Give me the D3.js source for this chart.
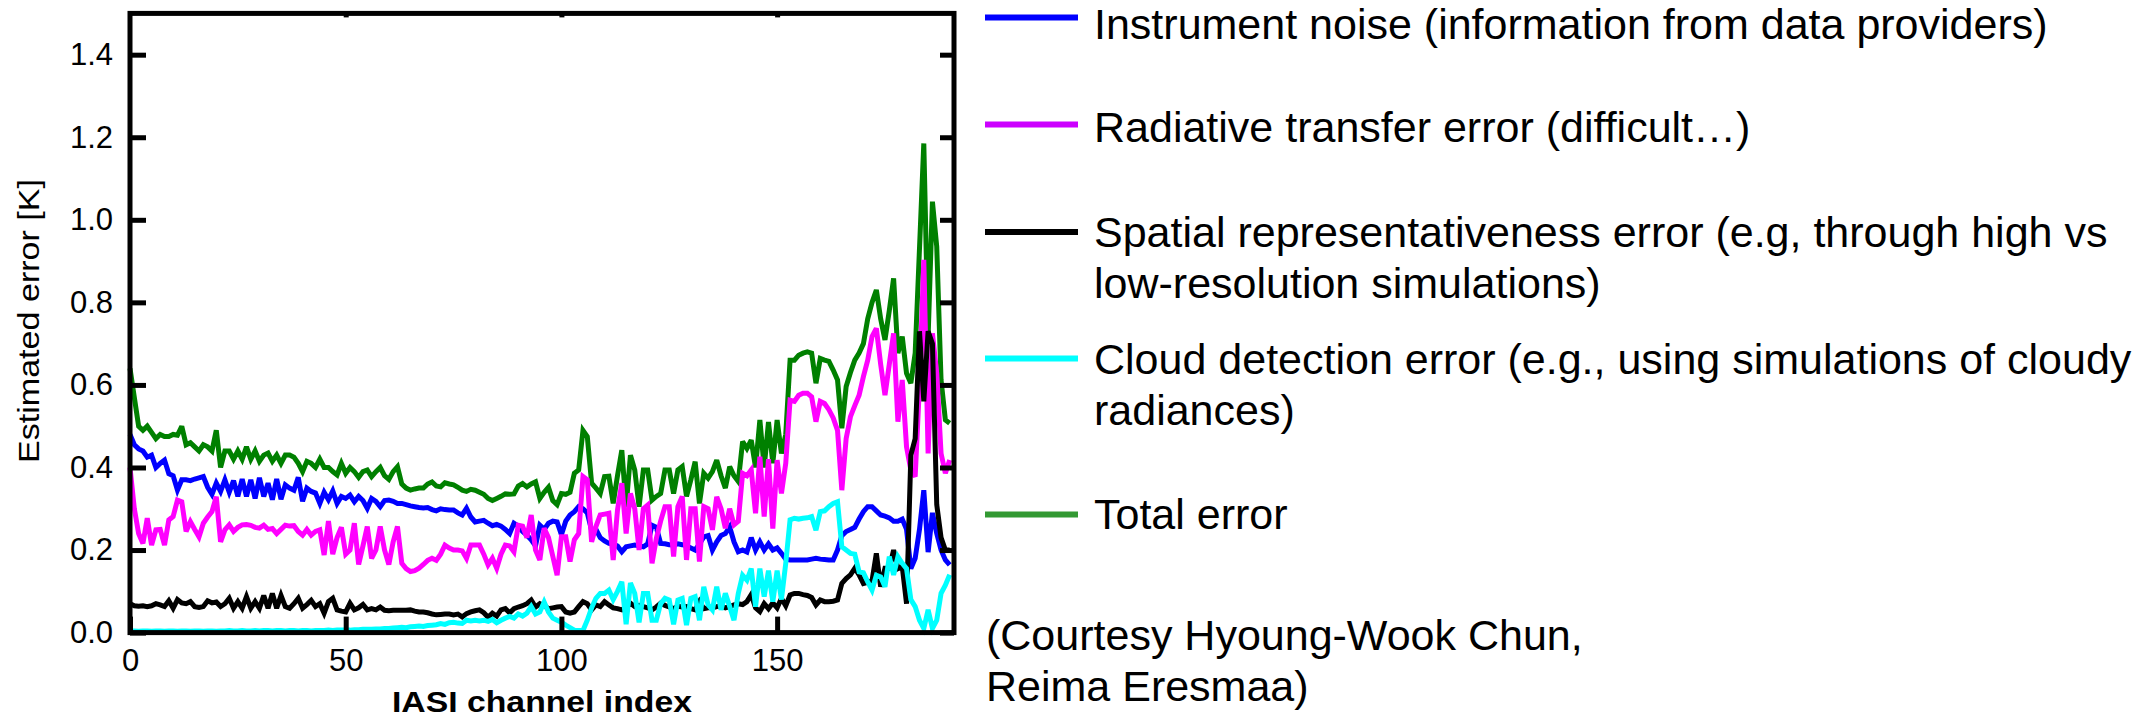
<!DOCTYPE html>
<html>
<head>
<meta charset="utf-8">
<script src="https://cdn.jsdelivr.net/npm/d3@7"></script>
<style>
  html, body { margin: 0; padding: 0; background: #ffffff; }
  svg { display: block; font-family: "Liberation Sans", Arial, Helvetica, sans-serif; }
</style>
</head>
<body>
<svg id="chart" width="2145" height="721"></svg>
<script>
// IASI channel index runs 0..190
const channels = d3.range(0, 191);

// Instrument noise [K]
const noise = [
  0.480, 0.455, 0.445, 0.440, 0.425, 0.430, 0.400, 0.410, 0.418, 0.385,
  0.380, 0.345, 0.370, 0.370, 0.368, 0.372, 0.375, 0.378, 0.352, 0.335,
  0.362, 0.342, 0.370, 0.340, 0.368, 0.330, 0.372, 0.330, 0.370, 0.325,
  0.375, 0.330, 0.362, 0.322, 0.372, 0.323, 0.358, 0.350, 0.345, 0.376,
  0.318, 0.350, 0.342, 0.338, 0.313, 0.340, 0.322, 0.343, 0.313, 0.330,
  0.325, 0.333, 0.317, 0.330, 0.320, 0.301, 0.325, 0.318, 0.305, 0.320,
  0.321, 0.318, 0.313, 0.313, 0.310, 0.307, 0.305, 0.303, 0.302, 0.303,
  0.298, 0.295, 0.300, 0.298, 0.297, 0.297, 0.290, 0.285, 0.301, 0.280,
  0.268, 0.270, 0.272, 0.265, 0.259, 0.262, 0.258, 0.250, 0.240, 0.265,
  0.258, 0.245, 0.236, 0.225, 0.210, 0.260, 0.250, 0.265, 0.270, 0.268,
  0.237, 0.270, 0.285, 0.293, 0.305, 0.300, 0.290, 0.248, 0.250, 0.230,
  0.222, 0.216, 0.215, 0.210, 0.196, 0.208, 0.210, 0.212, 0.210, 0.208,
  0.215, 0.260, 0.255, 0.216, 0.215, 0.213, 0.212, 0.215, 0.213, 0.210,
  0.205, 0.200, 0.215, 0.232, 0.235, 0.200, 0.220, 0.235, 0.240, 0.256,
  0.220, 0.196, 0.200, 0.195, 0.230, 0.200, 0.220, 0.200, 0.215, 0.200,
  0.205, 0.192, 0.178, 0.176, 0.176, 0.176, 0.176, 0.176, 0.178, 0.180,
  0.178, 0.177, 0.176, 0.176, 0.200, 0.235, 0.245, 0.250, 0.255, 0.275,
  0.293, 0.305, 0.305, 0.295, 0.285, 0.282, 0.278, 0.270, 0.270, 0.275,
  0.250, 0.155, 0.180, 0.250, 0.345, 0.195, 0.290, 0.240, 0.200, 0.176, 0.164
];

// Radiative transfer error [K]
const radiative = [
  0.400, 0.300, 0.240, 0.216, 0.277, 0.212, 0.249, 0.250, 0.212, 0.273,
  0.281, 0.321, 0.317, 0.245, 0.269, 0.250, 0.232, 0.265, 0.280, 0.293,
  0.329, 0.220, 0.249, 0.261, 0.245, 0.255, 0.261, 0.262, 0.260, 0.255,
  0.253, 0.260, 0.250, 0.252, 0.240, 0.250, 0.260, 0.258, 0.259, 0.245,
  0.236, 0.250, 0.236, 0.245, 0.249, 0.188, 0.270, 0.190, 0.230, 0.255,
  0.190, 0.200, 0.265, 0.165, 0.210, 0.257, 0.180, 0.200, 0.257, 0.200,
  0.165, 0.220, 0.257, 0.168, 0.155, 0.148, 0.150, 0.156, 0.165, 0.175,
  0.180, 0.175, 0.190, 0.212, 0.205, 0.200, 0.200, 0.198, 0.180, 0.212,
  0.212, 0.212, 0.190, 0.164, 0.180, 0.156, 0.190, 0.212, 0.210, 0.196,
  0.260, 0.258, 0.230, 0.285, 0.200, 0.176, 0.253, 0.230, 0.185, 0.139,
  0.232, 0.232, 0.172, 0.225, 0.240, 0.378, 0.370, 0.220, 0.257, 0.285,
  0.287, 0.289, 0.176, 0.297, 0.362, 0.240, 0.337, 0.300, 0.200, 0.300,
  0.309, 0.168, 0.228, 0.270, 0.305, 0.305, 0.184, 0.305, 0.330, 0.176,
  0.300, 0.300, 0.172, 0.305, 0.300, 0.249, 0.329, 0.300, 0.253, 0.300,
  0.261, 0.270, 0.386, 0.380, 0.394, 0.289, 0.426, 0.281, 0.420, 0.252,
  0.418, 0.337, 0.410, 0.563, 0.560, 0.575, 0.580, 0.580, 0.571, 0.511,
  0.560, 0.555, 0.540, 0.520, 0.490, 0.345, 0.470, 0.523, 0.550, 0.575,
  0.620, 0.660, 0.717, 0.737, 0.650, 0.575, 0.650, 0.725, 0.511, 0.612,
  0.450, 0.394, 0.378, 0.600, 0.903, 0.434, 0.725, 0.628, 0.434, 0.386, 0.418
];

// Spatial representativeness error [K]
const spatial = [
  0.070, 0.065, 0.064, 0.065, 0.063, 0.065, 0.070, 0.067, 0.063, 0.077,
  0.059, 0.080, 0.072, 0.070, 0.075, 0.063, 0.061, 0.063, 0.077, 0.072,
  0.074, 0.063, 0.070, 0.083, 0.059, 0.075, 0.059, 0.087, 0.059, 0.075,
  0.059, 0.090, 0.059, 0.095, 0.059, 0.090, 0.063, 0.059, 0.070, 0.083,
  0.059, 0.068, 0.078, 0.063, 0.070, 0.047, 0.075, 0.083, 0.055, 0.052,
  0.050, 0.071, 0.055, 0.060, 0.068, 0.055, 0.058, 0.055, 0.062, 0.054,
  0.053, 0.054, 0.054, 0.054, 0.054, 0.055, 0.052, 0.050, 0.050, 0.048,
  0.045, 0.043, 0.044, 0.045, 0.045, 0.043, 0.045, 0.038, 0.046, 0.050,
  0.053, 0.055, 0.048, 0.037, 0.047, 0.040, 0.055, 0.058, 0.048, 0.058,
  0.062, 0.065, 0.070, 0.079, 0.062, 0.070, 0.065, 0.058, 0.060, 0.062,
  0.063, 0.050, 0.047, 0.050, 0.063, 0.075, 0.070, 0.055, 0.067, 0.063,
  0.075, 0.067, 0.060, 0.058, 0.055, 0.062, 0.071, 0.063, 0.066, 0.063,
  0.060, 0.055, 0.062, 0.071, 0.066, 0.062, 0.058, 0.064, 0.062, 0.063,
  0.058, 0.055, 0.075, 0.058, 0.060, 0.060, 0.063, 0.065, 0.060, 0.063,
  0.067, 0.070, 0.068, 0.075, 0.092, 0.060, 0.051, 0.070, 0.058, 0.072,
  0.060, 0.083, 0.065, 0.091, 0.095, 0.095, 0.092, 0.090, 0.085, 0.067,
  0.079, 0.075, 0.075, 0.076, 0.079, 0.119, 0.131, 0.140, 0.156, 0.140,
  0.119, 0.122, 0.125, 0.192, 0.111, 0.156, 0.156, 0.200, 0.155, 0.160,
  0.070, 0.430, 0.470, 0.730, 0.560, 0.730, 0.700, 0.310, 0.230, 0.200, 0.200
];

// Cloud detection error [K]
const cloud = [
  0.004, 0.004, 0.003, 0.004, 0.004, 0.003, 0.004, 0.004, 0.003, 0.004,
  0.004, 0.003, 0.004, 0.004, 0.003, 0.004, 0.004, 0.003, 0.004, 0.004,
  0.003, 0.004, 0.004, 0.005, 0.004, 0.004, 0.005, 0.004, 0.004, 0.005,
  0.004, 0.005, 0.005, 0.004, 0.005, 0.005, 0.004, 0.005, 0.005, 0.004,
  0.005, 0.005, 0.004, 0.005, 0.005, 0.005, 0.006, 0.005, 0.006, 0.006,
  0.006, 0.006, 0.007, 0.007, 0.008, 0.008, 0.008, 0.009, 0.009, 0.010,
  0.010, 0.011, 0.012, 0.013, 0.012, 0.014, 0.015, 0.016, 0.015, 0.017,
  0.018, 0.019, 0.022, 0.020, 0.024, 0.025, 0.023, 0.022, 0.030, 0.028,
  0.030, 0.028, 0.030, 0.027, 0.032, 0.024, 0.030, 0.035, 0.039, 0.035,
  0.045, 0.040, 0.047, 0.063, 0.045, 0.050, 0.074, 0.050, 0.035, 0.030,
  0.025, 0.018, 0.012, 0.006, 0.005, 0.005, 0.030, 0.060, 0.083, 0.095,
  0.095, 0.103, 0.080, 0.100, 0.123, 0.020, 0.120, 0.095, 0.025, 0.095,
  0.095, 0.030, 0.030, 0.070, 0.083, 0.079, 0.020, 0.079, 0.083, 0.018,
  0.083, 0.087, 0.030, 0.111, 0.067, 0.055, 0.111, 0.055, 0.095, 0.063,
  0.030, 0.095, 0.139, 0.127, 0.155, 0.063, 0.155, 0.087, 0.150, 0.075,
  0.150, 0.080, 0.168, 0.273, 0.277, 0.275, 0.277, 0.278, 0.281, 0.248,
  0.293, 0.295, 0.305, 0.313, 0.317, 0.208, 0.200, 0.192, 0.190, 0.147,
  0.145, 0.123, 0.103, 0.139, 0.135, 0.111, 0.184, 0.140, 0.184, 0.168,
  0.155, 0.080, 0.063, 0.030, 0.010, 0.055, 0.010, 0.030, 0.095, 0.115, 0.140
];

// Total error [K]
const total = [
  0.640, 0.570, 0.500, 0.490, 0.500, 0.485, 0.470, 0.480, 0.475, 0.475,
  0.480, 0.478, 0.500, 0.455, 0.460, 0.450, 0.440, 0.455, 0.450, 0.440,
  0.490, 0.400, 0.440, 0.440, 0.420, 0.440, 0.420, 0.450, 0.420, 0.440,
  0.415, 0.430, 0.435, 0.415, 0.430, 0.410, 0.430, 0.430, 0.425, 0.410,
  0.390, 0.415, 0.410, 0.400, 0.420, 0.400, 0.400, 0.390, 0.382, 0.410,
  0.386, 0.400, 0.390, 0.376, 0.390, 0.394, 0.378, 0.390, 0.400, 0.380,
  0.371, 0.390, 0.402, 0.360, 0.350, 0.345, 0.348, 0.350, 0.350, 0.360,
  0.365, 0.355, 0.353, 0.363, 0.360, 0.358, 0.352, 0.345, 0.342, 0.347,
  0.345, 0.340, 0.335, 0.325, 0.320, 0.325, 0.330, 0.336, 0.335, 0.336,
  0.355, 0.361, 0.353, 0.360, 0.365, 0.325, 0.340, 0.352, 0.320, 0.310,
  0.337, 0.335, 0.340, 0.386, 0.394, 0.490, 0.475, 0.362, 0.350, 0.337,
  0.378, 0.379, 0.313, 0.380, 0.442, 0.305, 0.430, 0.394, 0.305, 0.394,
  0.394, 0.321, 0.330, 0.337, 0.394, 0.394, 0.337, 0.394, 0.402, 0.330,
  0.370, 0.414, 0.313, 0.386, 0.374, 0.390, 0.418, 0.380, 0.350, 0.402,
  0.380, 0.366, 0.463, 0.446, 0.466, 0.400, 0.515, 0.400, 0.510, 0.410,
  0.515, 0.434, 0.480, 0.660, 0.660, 0.672, 0.677, 0.680, 0.677, 0.604,
  0.664, 0.660, 0.657, 0.636, 0.612, 0.495, 0.596, 0.630, 0.660, 0.677,
  0.700, 0.760, 0.800, 0.830, 0.760, 0.709, 0.780, 0.858, 0.677, 0.717,
  0.628, 0.604, 0.677, 0.930, 1.185, 0.717, 1.044, 0.935, 0.612, 0.515, 0.507
];

const yTicks = [0.0, 0.2, 0.4, 0.6, 0.8, 1.0, 1.2, 1.4];
const xTicks = [0, 50, 100, 150];

const seriesNames = ["total", "noise", "radiative", "spatial", "cloud"];
const seriesValues = { total, noise, radiative, spatial, cloud };
const seriesColors = {
  noise: "#0000ff", radiative: "#ff00ff", spatial: "#000000",
  cloud: "#00ffff", total: "#008000"
};

const legendLabels = [
  ["Instrument noise (information from data providers)"],
  ["Radiative transfer error (difficult\u2026)"],
  ["Spatial representativeness error (e.g, through high vs", "low-resolution simulations)"],
  ["Cloud detection error (e.g., using simulations of cloudy", "radiances)"],
  ["Total error"]
];
const legendColors = ["#0000ff", "#cc00ff", "#000000", "#00ffff", "#339933"];
const creditLines = ["(Courtesy Hyoung-Wook Chun,", "Reima Eresmaa)"];

const xLabel = "IASI channel index";
const yLabel = "Estimated error [K]";

// ---- drawing ----
const svg = d3.select("#chart");
svg.append("rect").attr("width", 2145).attr("height", 721).attr("fill", "#ffffff");

const plot = { left: 130, right: 954, top: 13.4, bottom: 632.6 };
const x = d3.scaleLinear().domain([0, 191]).range([plot.left, plot.right]);
const y = d3.scaleLinear().domain([0, 1.5]).range([plot.bottom, plot.top]);

const line = d3.line().x((d, i) => x(channels[i])).y(d => y(d));

const linesG = svg.append("g").attr("fill", "none");
seriesNames.forEach(name => {
  linesG.append("path")
    .datum(seriesValues[name])
    .attr("d", line)
    .attr("stroke", seriesColors[name])
    .attr("stroke-width", 5)
    .attr("stroke-linejoin", "miter")
    .attr("stroke-miterlimit", 3);
});

const axisStyle = g => {
  g.select(".domain").remove();
  g.selectAll(".tick line").attr("stroke", "#000").attr("stroke-width", 5);
  g.selectAll(".tick text").attr("fill", "#000").attr("font-size", 31);
};

svg.append("g")
  .attr("transform", `translate(${plot.left},0)`)
  .call(d3.axisLeft(y).tickValues(yTicks).tickFormat(d3.format(".1f")).tickSize(-16).tickPadding(17))
  .call(axisStyle);

svg.append("g")
  .attr("transform", `translate(${plot.right},0)`)
  .call(d3.axisRight(y).tickValues(yTicks).tickFormat("").tickSize(-14))
  .call(axisStyle);

svg.append("g")
  .attr("transform", `translate(0,${plot.bottom})`)
  .call(d3.axisBottom(x).tickValues(xTicks).tickFormat(d3.format("d")).tickSize(-16).tickPadding(16))
  .call(axisStyle);

svg.append("g")
  .attr("transform", `translate(0,${plot.top})`)
  .call(d3.axisTop(x).tickValues(xTicks.slice(1)).tickFormat("").tickSize(-4))
  .call(axisStyle);

svg.append("rect")
  .attr("x", plot.left).attr("y", plot.top)
  .attr("width", plot.right - plot.left).attr("height", plot.bottom - plot.top)
  .attr("fill", "none").attr("stroke", "#000").attr("stroke-width", 5);

// axis titles
svg.append("text")
  .attr("x", (plot.left + plot.right) / 2).attr("y", 712)
  .attr("text-anchor", "middle").attr("font-weight", "bold").attr("font-size", 30)
  .attr("textLength", 300).attr("lengthAdjust", "spacingAndGlyphs")
  .text(xLabel);

svg.append("text")
  .attr("transform", "translate(39,321) rotate(-90)")
  .attr("text-anchor", "middle").attr("font-size", 29)
  .attr("textLength", 284).attr("lengthAdjust", "spacingAndGlyphs")
  .text(yLabel);

// legend
const legendRowY = [17.5, 124.5, 232, 358.5, 514.5];
const legendBase = [39, 142, 247, 374, 529];
const legendFont = 43;
const legendLineGap = 51;
const legendG = svg.append("g");
legendLabels.forEach((lines, k) => {
  legendG.append("line")
    .attr("x1", 985).attr("x2", 1078)
    .attr("y1", legendRowY[k]).attr("y2", legendRowY[k])
    .attr("stroke", legendColors[k]).attr("stroke-width", 6);
  lines.forEach((t, j) => {
    legendG.append("text")
      .attr("x", 1094).attr("y", legendBase[k] + j * legendLineGap)
      .attr("font-size", legendFont).attr("fill", "#000")
      .text(t);
  });
});

creditLines.forEach((t, j) => {
  svg.append("text")
    .attr("x", 986).attr("y", 650 + j * legendLineGap)
    .attr("font-size", legendFont).attr("fill", "#000")
    .text(t);
});
</script>
</body>
</html>
